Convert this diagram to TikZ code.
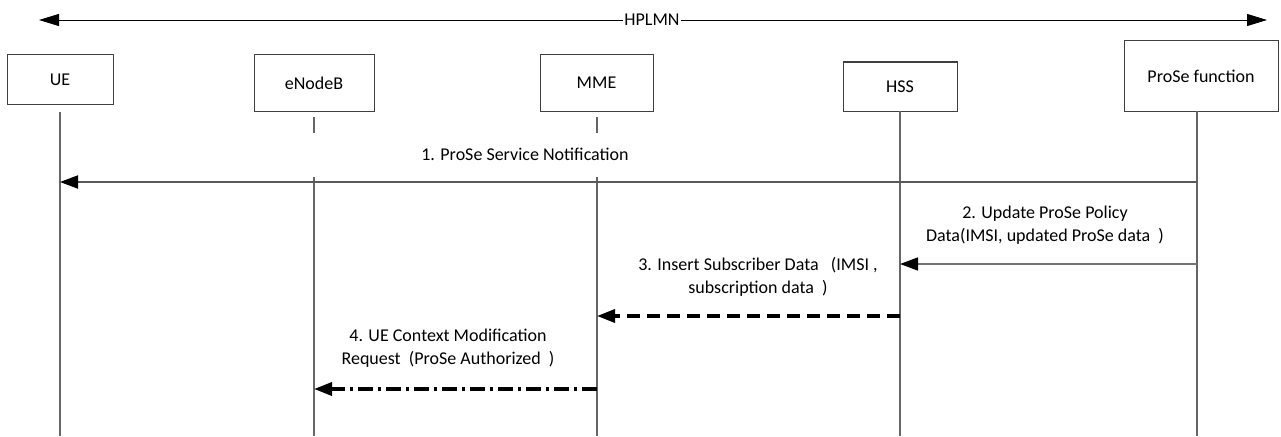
\documentclass[tikz,border=0pt]{standalone}
\usepackage{fontspec}
\setmainfont{Carlito}
\usetikzlibrary{arrows.meta}
\begin{document}
\begin{tikzpicture}[x=1pt,y=-1pt,
  font=\fontsize{18}{23}\selectfont,
  entity/.style={draw=black!75, line width=1pt, fill=white, inner sep=0pt, align=center},
  life/.style={draw=black!60, line width=1.2pt},
  tipb/.style={-{Triangle[length=18pt,width=13pt,color=black]}},
  msgone/.style={tipb, draw=black!65, line width=2pt},
  msgtwo/.style={tipb, draw=black!55, line width=1.5pt},
  msgthree/.style={tipb, draw=black, line width=3.5pt, dash pattern=on 13pt off 7pt},
  msgfour/.style={tipb, draw=black, line width=3.5pt, dash pattern=on 15pt off 5pt on 3pt off 5pt},
  lbl/.style={align=center, inner sep=0pt}]
\useasboundingbox (0,0) rectangle (1281,436);

% HPLMN span
\coordinate (hl) at (39,20);
\coordinate (hr) at (1267,20);
\draw[line width=0.9pt, {Triangle[length=20pt,width=12pt]}-{Triangle[length=20pt,width=12pt]}] (hl) -- (hr);
\node[fill=white, inner sep=1pt] (hplmn) at (652,20) {HPLMN};

% entities
\node[entity, minimum width=106pt, minimum height=49pt] (ue) at (60,79.5) {UE};
\node[entity, minimum width=120pt, minimum height=56pt] (enb) at (314,83) {eNodeB};
\node[entity, minimum width=113pt, minimum height=56pt] (mme) at (596.5,83) {MME};
\node[entity, minimum width=114pt, minimum height=49pt] (hss) at (900,86.5) {HSS};
\node[entity, minimum width=154pt, minimum height=70pt] (pf) at (1201,76) {ProSe function};

% lifelines
\coordinate (ueT) at (60,112);   \coordinate (ueB) at (60,436);
\coordinate (enbT1) at (314,117); \coordinate (enbT2) at (314,133);
\coordinate (enbT) at (314,177); \coordinate (enbB) at (314,436);
\coordinate (mmeT1) at (597,117); \coordinate (mmeT2) at (597,133);
\coordinate (mmeT) at (597,177); \coordinate (mmeB) at (597,436);
\coordinate (hssT) at (900,111); \coordinate (hssB) at (900,436);
\coordinate (pfT) at (1197,111); \coordinate (pfB) at (1197,436);
\draw[life] (ueT) -- (ueB);
\draw[life] (enbT1) -- (enbT2);
\draw[life] (enbT) -- (enbB);
\draw[life] (mmeT1) -- (mmeT2);
\draw[life] (mmeT) -- (mmeB);
\draw[life] (hssT) -- (hssB);
\draw[life] (pfT) -- (pfB);

% message points
\coordinate (m1s) at (1197,182); \coordinate (m1e) at (60,182);
\coordinate (m2s) at (1197,264); \coordinate (m2e) at (900,264);
\coordinate (m3s) at (900,316);  \coordinate (m3e) at (597,316);
\coordinate (m4s) at (597,389);  \coordinate (m4e) at (314,389);

\draw[msgone] (m1s) -- (m1e);
\draw[msgtwo] (m2s) -- (m2e);
\draw[msgthree] (m3s) -- (m3e);
\draw[msgfour] (m4s) -- (m4e);

% labels
\node[lbl] (l1) at (525,154) {1. ProSe Service Notification};
\node[lbl] (l2) at (1045,225) {2. Update ProSe Policy\\Data(IMSI, updated ProSe data\ \ )};
\node[lbl] (l3) at (758,277) {3. Insert Subscriber Data \ \ (IMSI ,\\subscription data\ \ )};
\node[lbl] (l4) at (448,348) {4. UE Context Modification\\Request\ \ (ProSe Authorized\ \ )};
\end{tikzpicture}
\end{document}
